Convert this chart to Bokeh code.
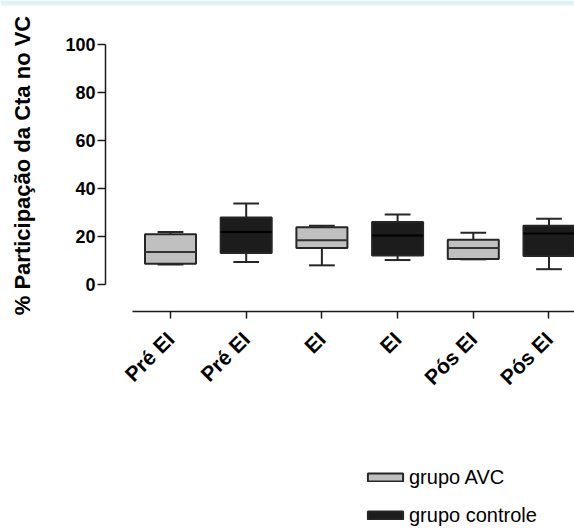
from math import pi
from bokeh.plotting import figure
from bokeh.models import (ColumnDataSource, FixedTicker, Range1d, Legend, LegendItem,
                          Label, BoxAnnotation)
from bokeh.embed import file_html
from bokeh.resources import INLINE

# ---- data ----
tick_labels = ["Pré EI", "Pré EI", "EI", "EI", "Pós EI", "Pós EI"]
tick_pos = [1, 2, 3, 4, 5, 6]

avc_pos = [1, 3, 5]
avc_min = [8.5, 8.1, 10.6]
avc_q1 = [8.8, 15.3, 10.7]
avc_med = [13.6, 18.5, 15.3]
avc_q3 = [21.0, 23.9, 18.8]
avc_max = [22.0, 24.6, 21.7]

ctrl_pos = [2, 4, 6]
ctrl_min = [9.5, 10.3, 6.5]
ctrl_q1 = [13.2, 12.2, 12.0]
ctrl_med = [22.0, 20.5, 21.3]
ctrl_q3 = [28.0, 26.1, 24.6]
ctrl_max = [33.8, 29.3, 27.5]

y_ticks = [0, 20, 40, 60, 80, 100]
y_title = "% Participação da Cta no VC"
legend_labels = ["grupo AVC", "grupo controle"]

# ---- styling ----
BOX_W = 0.674
CAP_W = 0.34
FONT = "Liberation Sans"
EDGE = "#262626"

# frame covers the whole canvas; axes are pinned inside it
p = figure(width=574, height=528, output_backend="svg", toolbar_location=None,
           x_range=Range1d(-1.2457, 6.337), y_range=Range1d(-101.41, 118.31),
           min_border_left=0, min_border_right=0, min_border_top=0, min_border_bottom=0)
p.outline_line_color = None
p.xgrid.grid_line_color = None
p.ygrid.grid_line_color = None
p.background_fill_color = "white"
p.border_fill_color = "white"

# thin light-blue band along the top edge
p.add_layout(BoxAnnotation(bottom=523, top=528, bottom_units="screen", top_units="screen",
                           fill_color="#dff1f9", fill_alpha=1, line_color=None))


def draw_group(pos, mn, q1, med, q3, mx, fill, med_color):
    src = ColumnDataSource(dict(
        x=pos, mn=mn, q1=q1, med=med, q3=q3, mx=mx,
        cl=[v - CAP_W / 2 for v in pos], cr=[v + CAP_W / 2 for v in pos],
        bl=[v - BOX_W / 2 for v in pos], br=[v + BOX_W / 2 for v in pos],
    ))
    p.segment(x0="x", y0="q3", x1="x", y1="mx", source=src, line_color=EDGE, line_width=2)
    p.segment(x0="x", y0="q1", x1="x", y1="mn", source=src, line_color=EDGE, line_width=2)
    p.segment(x0="cl", y0="mx", x1="cr", y1="mx", source=src, line_color=EDGE, line_width=2)
    p.segment(x0="cl", y0="mn", x1="cr", y1="mn", source=src, line_color=EDGE, line_width=2)
    bar = p.vbar(x="x", width=BOX_W, top="q3", bottom="q1", source=src,
                 fill_color=fill, line_color=EDGE, line_width=2)
    p.segment(x0="bl", y0="med", x1="br", y1="med", source=src, line_color=med_color, line_width=2)
    return bar


avc_bar = draw_group(avc_pos, avc_min, avc_q1, avc_med, avc_q3, avc_max, "#c0c0c0", "#333333")
ctrl_bar = draw_group(ctrl_pos, ctrl_min, ctrl_q1, ctrl_med, ctrl_q3, ctrl_max, "#1c1c1c", "#000000")

# ---- y axis ----
ya = p.yaxis[0]
ya.ticker = FixedTicker(ticks=y_ticks)
ya.bounds = (0, 100)
ya.fixed_location = 0.1413
ya.axis_line_color = "#1a1a1a"
ya.axis_line_width = 1.5
ya.major_tick_line_color = "#1a1a1a"
ya.major_tick_line_width = 1.5
ya.major_tick_out = 8
ya.major_tick_in = 0
ya.minor_tick_line_color = None
ya.major_label_standoff = 2
ya.major_label_text_font = FONT
ya.major_label_text_font_style = "bold"
ya.major_label_text_font_size = "18px"
ya.major_label_text_color = "black"

# y title as a rotated label
p.add_layout(Label(x=22, y=363, x_units="screen", y_units="screen", angle=pi / 2,
                   text=y_title, text_align="center", text_baseline="middle",
                   text_font=FONT, text_font_style="bold", text_font_size="22px",
                   text_color="black"))

# ---- x axis ----
xa = p.xaxis[0]
xa.ticker = FixedTicker(ticks=tick_pos)
xa.major_label_overrides = {pos: lab for pos, lab in zip(tick_pos, tick_labels)}
xa.bounds = (0.5, 7)
xa.fixed_location = -11.1
xa.axis_line_color = "#1a1a1a"
xa.axis_line_width = 1.5
xa.major_tick_line_color = "#1a1a1a"
xa.major_tick_line_width = 1.5
xa.major_tick_out = 7
xa.major_tick_in = 0
xa.minor_tick_line_color = None
xa.major_label_orientation = pi / 4
xa.major_label_standoff = 17
xa.major_label_text_font = FONT
xa.major_label_text_font_style = "bold"
xa.major_label_text_font_size = "21px"
xa.major_label_text_color = "black"

# ---- legend ----
legend = Legend(items=[LegendItem(label=legend_labels[0], renderers=[avc_bar]),
                       LegendItem(label=legend_labels[1], renderers=[ctrl_bar])],
                location=(363, 1), orientation="vertical",
                glyph_width=44, glyph_height=10, label_height=24, spacing=14,
                padding=0, margin=0, border_line_color=None, background_fill_alpha=0,
                label_text_font=FONT, label_text_font_size="20px", label_standoff=2,
                label_text_color="black")
p.add_layout(legend)

open("out.html", "w").write(file_html(p, INLINE))
